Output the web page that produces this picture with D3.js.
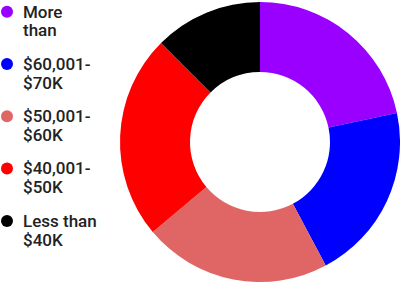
<!DOCTYPE html>
<html>
<head>
<meta charset="utf-8">
<script src="https://cdn.jsdelivr.net/npm/d3@7"></script>
<style>
body { margin: 0; background: #fff; }
svg { display: block; }
</style>
</head>
<body>
<div id="chart"></div>
<script>
// income brackets, clockwise from 12 o'clock
var labels = [["More", "than"], ["$60,001-", "$70K"], ["$50,001-", "$60K"], ["$40,001-", "$50K"], ["Less than", "$40K"]]
var values = [78, 74, 78, 85, 45]
var colors = ["#9900ff", "#0000ff", "#e06666", "#ff0000", "#000000"]

var width = 400, height = 285
var svg = d3.select("#chart").append("svg").attr("width", width).attr("height", height)

var pie = d3.pie().sort(null).value(function(d){return d})
var arc = d3.arc().innerRadius(70).outerRadius(140)

var g = svg.append("g").attr("transform", "translate(260,142)")
g.selectAll("path").data(pie(values)).enter()
	.append("path")
	.attr("d", arc)
	.attr("fill", function(d, i){return colors[i]})

var legend = svg.selectAll("g.item").data(labels).enter()
	.append("g").attr("class", "item")
	.attr("transform", function(d, i){return "translate(0," + (11.7 + i * 52.3) + ")"})

legend.append("circle")
	.attr("cx", 7).attr("cy", 0).attr("r", 6)
	.attr("fill", function(d, i){return colors[i]})

var txt = legend.append("text")
	.attr("x", 23)
	.attr("font-family", "Roboto")
	.attr("font-weight", 500)
	.attr("font-size", "17px")
	.attr("fill", "#222")

txt.selectAll("tspan").data(function(d){return d}).enter()
	.append("tspan")
	.attr("x", 23)
	.attr("y", function(d, j){return 5.8 + j * 19})
	.text(function(d){return d})
</script>
</body>
</html>
